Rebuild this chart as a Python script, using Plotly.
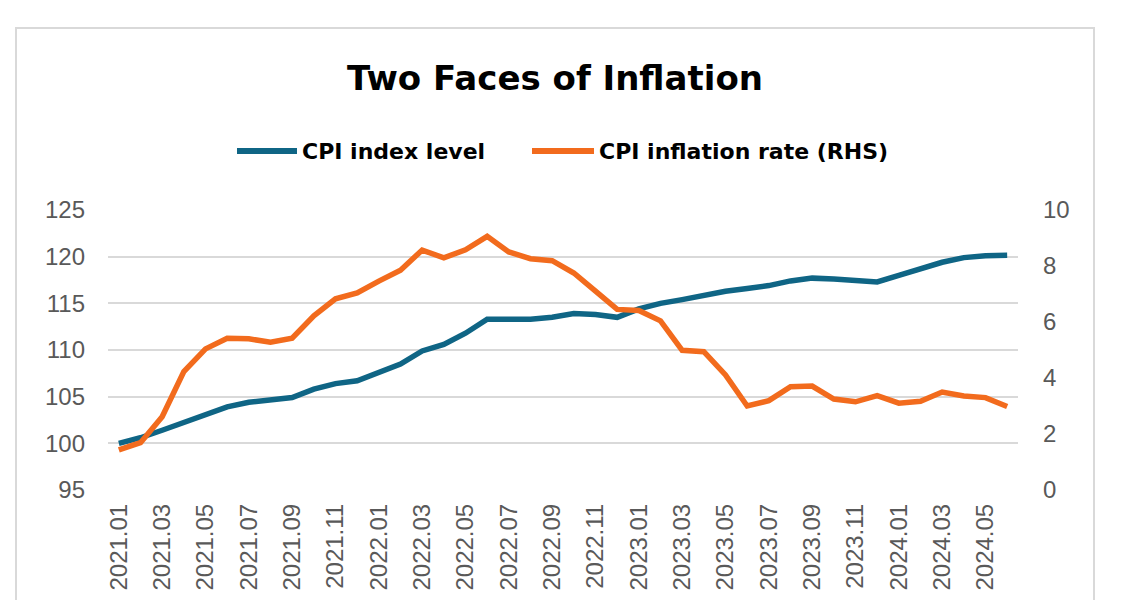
import plotly.graph_objects as go

months = [
    "2021.01", "2021.02", "2021.03", "2021.04", "2021.05", "2021.06",
    "2021.07", "2021.08", "2021.09", "2021.10", "2021.11", "2021.12",
    "2022.01", "2022.02", "2022.03", "2022.04", "2022.05", "2022.06",
    "2022.07", "2022.08", "2022.09", "2022.10", "2022.11", "2022.12",
    "2023.01", "2023.02", "2023.03", "2023.04", "2023.05", "2023.06",
    "2023.07", "2023.08", "2023.09", "2023.10", "2023.11", "2023.12",
    "2024.01", "2024.02", "2024.03", "2024.04", "2024.05", "2024.06",
]

cpi_index = [
    100.0, 100.6, 101.4, 102.2, 103.0, 103.9,
    104.4, 104.6, 104.9, 105.8, 106.4, 106.7,
    107.6, 108.5, 109.9, 110.6, 111.8, 113.3,
    113.3, 113.3, 113.5, 113.9, 113.8, 113.5,
    114.4, 115.0, 115.4, 115.9, 116.3, 116.6,
    116.9, 117.4, 117.7, 117.6, 117.4, 117.3,
    118.0, 118.7, 119.4, 119.9, 120.1, 120.15,
]

cpi_inflation = [
    1.43, 1.69, 2.62, 4.23, 5.04, 5.42,
    5.40, 5.28, 5.42, 6.22, 6.83, 7.04,
    7.46, 7.85, 8.57, 8.29, 8.58, 9.06,
    8.50, 8.26, 8.19, 7.75, 7.10, 6.45,
    6.41, 6.04, 4.99, 4.94, 4.11, 3.00,
    3.19, 3.69, 3.71, 3.25, 3.15, 3.37,
    3.10, 3.17, 3.50, 3.36, 3.30, 2.98,
]

tick_labels = months[::2]
left_ticks = [95, 100, 105, 110, 115, 120, 125]
right_ticks = [0, 2, 4, 6, 8, 10]

BLUE = "#0f6585"
ORANGE = "#f26b1d"
GRID = "#d9d9d9"
TICK = "#595959"

fig = go.Figure()
fig.add_trace(go.Scatter(
    x=months, y=cpi_index, mode="lines", name="CPI index level",
    line=dict(color=BLUE, width=5.5), yaxis="y", showlegend=False,
))
fig.add_trace(go.Scatter(
    x=months, y=cpi_inflation, mode="lines", name="CPI inflation rate (RHS)",
    line=dict(color=ORANGE, width=5.5), yaxis="y2", showlegend=False,
))

# page body has an 8px margin, so the figure is placed at (8, 8)
OFF = 8
W, H = 1122 - OFF, 600 - OFF
# plot area in screen pixels: x 108..1018, y 210..490
PL, PR, PT, PB = 108, 1018, 210, 490
L, R, T, B = PL - OFF, W - (PR - OFF), PT - OFF, H - (PB - OFF)
pw, ph = PR - PL, PB - PT


def px(x):
    return (x - PL) / pw


def py(y):
    return (PB - y) / ph


legend_y = py(151)
shapes = [
    dict(type="rect", xref="paper", yref="paper",
         x0=px(16), x1=px(1094), y0=py(640), y1=py(28),
         line=dict(color=GRID, width=2), fillcolor="rgba(0,0,0,0)", layer="below"),
    dict(type="line", xref="paper", yref="paper",
         x0=px(237), x1=px(297), y0=legend_y, y1=legend_y,
         line=dict(color=BLUE, width=6)),
    dict(type="line", xref="paper", yref="paper",
         x0=px(532), x1=px(594), y0=legend_y, y1=legend_y,
         line=dict(color=ORANGE, width=6)),
]

legend_font = dict(family="DejaVu Sans", size=22, color="#000000", weight="bold")
annotations = [
    dict(text="CPI index level", xref="paper", yref="paper", x=px(300), y=legend_y,
         xanchor="left", yanchor="middle", showarrow=False, font=legend_font),
    dict(text="CPI inflation rate (RHS)", xref="paper", yref="paper", x=px(597), y=legend_y,
         xanchor="left", yanchor="middle", showarrow=False, font=legend_font),
]

fig.update_layout(
    width=W, height=H,
    margin=dict(l=L, r=R, t=T, b=B, autoexpand=False),
    paper_bgcolor="white", plot_bgcolor="white",
    title=dict(text="Two Faces of Inflation", x=(555 - OFF) / W, xref="container",
               xanchor="center", y=1 - (78 - OFF) / H, yref="container", yanchor="middle",
               font=dict(family="DejaVu Sans", size=34, color="#000000", weight="bold")),
    shapes=shapes, annotations=annotations,
    xaxis=dict(type="category", categoryorder="array", categoryarray=months,
               tickmode="array", tickvals=tick_labels, ticktext=tick_labels,
               tickangle=-90, tickfont=dict(family="Liberation Sans", size=24, color=TICK),
               showgrid=False, zeroline=False, showline=False, ticks="",
               ticklabelstandoff=8, range=[-0.5, len(months) - 0.5], automargin=False),
    yaxis=dict(range=[95, 125], tickmode="array", tickvals=left_ticks,
               tickfont=dict(family="Liberation Sans", size=24, color=TICK),
               showgrid=True, gridcolor=GRID, gridwidth=2, zeroline=False,
               showline=False, ticks="", ticklabelstandoff=22, automargin=False),
    yaxis2=dict(range=[0, 10], tickmode="array", tickvals=right_ticks,
                overlaying="y", side="right",
                tickfont=dict(family="Liberation Sans", size=24, color=TICK),
                showgrid=False, zeroline=False, showline=False, ticks="",
                ticklabelstandoff=24, automargin=False),
)

fig.write_html("out.html")
